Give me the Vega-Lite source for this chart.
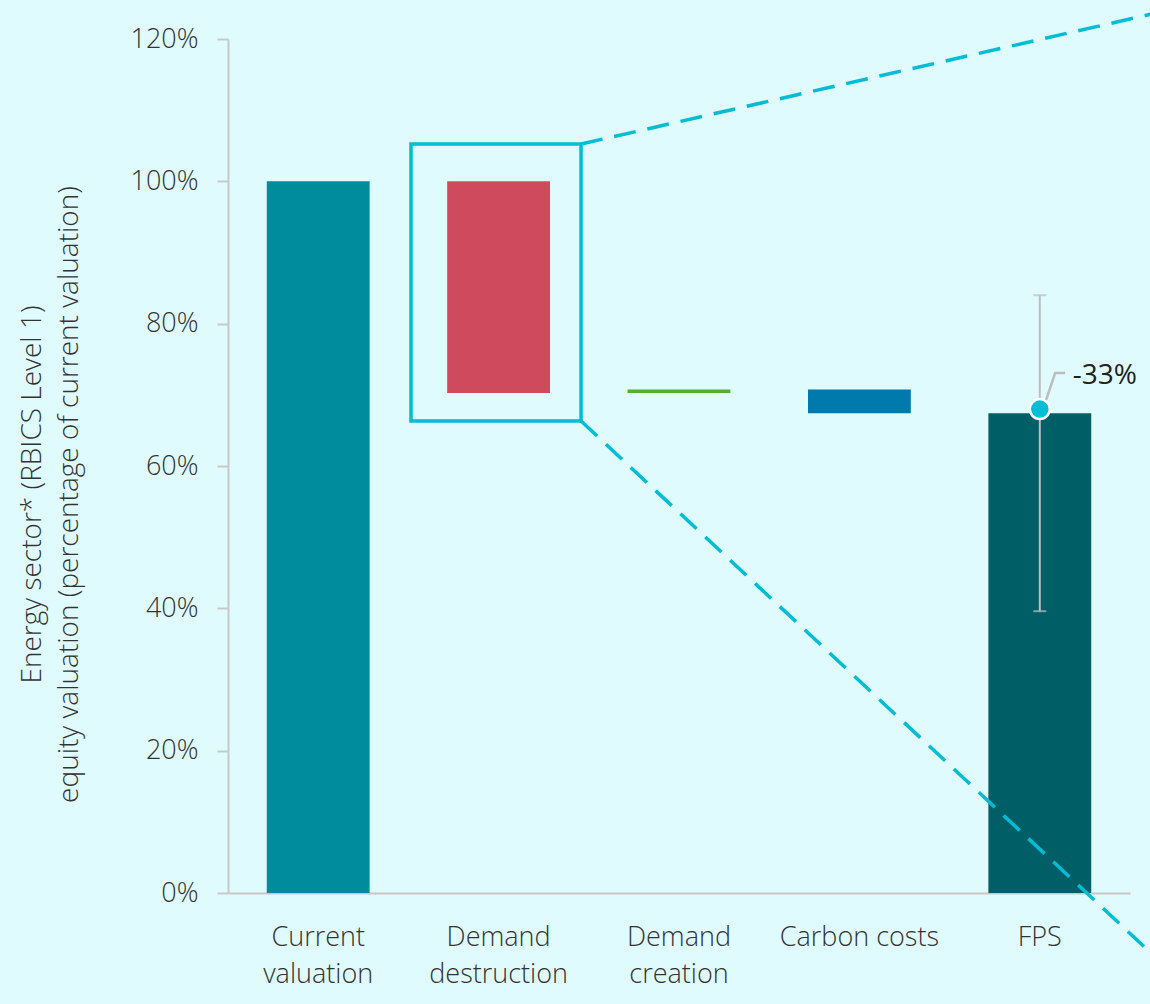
{
  "$schema": "https://vega.github.io/schema/vega-lite/v6.json",
  "width": 902,
  "height": 854,
  "autosize": {"type": "none"},
  "padding": {"left": 228, "top": 39, "right": 20, "bottom": 111},
  "background": "#dffbfd",
  "config": {"view": {"stroke": null}, "font": "Open Sans"},
  "datasets": {
    "steps": [
      {"step": "Current valuation", "start": 0, "end": 1.0},
      {"step": "Demand destruction", "start": 0.7025, "end": 1.0},
      {"step": "Demand creation", "start": 0.7025, "end": 0.7075},
      {"step": "Carbon costs", "start": 0.674, "end": 0.7075},
      {"step": "FPS", "start": 0, "end": 0.674}
    ],
    "fps": [
      {"step": "FPS", "low": 0.396, "high": 0.84, "point": 0.68, "label": "-33%", "labelY": 0.726}
    ],
    "box": [{"x0": 1.0144, "x1": 1.957, "y0": 0.6632, "y1": 1.0524}],
    "zoomLines": [
      {"line": "upper", "x": 1.957, "y": 1.0524},
      {"line": "upper", "x": 5.17, "y": 1.238},
      {"line": "lower", "x": 1.957, "y": 0.6632},
      {"line": "lower", "x": 5.17, "y": -0.097}
    ],
    "leader": [
      {"x": 4.535, "y": 0.6927, "o": 0},
      {"x": 4.585, "y": 0.7307, "o": 1},
      {"x": 4.64, "y": 0.7307, "o": 2}
    ]
  },
  "layer": [
    {
      "layer": [
        {
          "data": {"name": "steps"},
          "mark": {"type": "bar"},
          "encoding": {
            "x": {
              "field": "step",
              "type": "nominal",
              "sort": null,
              "scale": {
                "domain": ["Current valuation", "Demand destruction", "Demand creation", "Carbon costs", "FPS"],
                "paddingInner": 0.43,
                "paddingOuter": 0.215
              },
              "axis": {
                "title": null,
                "labelExpr": "datum.value == 'Carbon costs' || datum.value == 'FPS' ? datum.value : split(datum.value, ' ')",
                "ticks": false,
                "domainColor": "#c8c8c8",
                "domainWidth": 2,
                "labelFontSize": 27,
                "labelFontWeight": 300,
                "labelColor": "#333333",
                "labelPadding": 31,
                "labelLineHeight": 37,
                "labelAngle": 0,
                "labelBaseline": "top"
              }
            },
            "y": {
              "field": "start",
              "type": "quantitative",
              "scale": {"domain": [0, 1.2], "nice": false, "zero": false},
              "axis": {
                "format": ".0%",
                "values": [0, 0.2, 0.4, 0.6, 0.8, 1.0, 1.2],
                "grid": false,
                "domainColor": "#c8c8c8",
                "domainWidth": 2,
                "tickColor": "#c8c8c8",
                "tickWidth": 2,
                "tickSize": 11,
                "labelPadding": 19,
                "labelFontSize": 27,
                "labelFontWeight": 300,
                "labelColor": "#333333",
                "title": ["\u00a0\u00a0\u00a0\u00a0\u00a0\u00a0\u00a0Energy sector*  (RBICS Level 1)", "equity valuation (percentage of current valuation)"],
                "titleFontSize": 28,
                "titleFontWeight": 300,
                "titleColor": "#333333",
                "titlePadding": 46,
                "titleLineHeight": 37,
                "titleY": 455
              }
            },
            "y2": {"field": "end"},
            "color": {
              "field": "step",
              "type": "nominal",
              "legend": null,
              "scale": {
                "domain": ["Current valuation", "Demand destruction", "Demand creation", "Carbon costs", "FPS"],
                "range": ["#008c9c", "#d04a5e", "#52b131", "#0079ad", "#005f66"]
              }
            }
          }
        },
        {
          "data": {"name": "fps"},
          "mark": {"type": "rule", "color": "#bdbdbd", "strokeWidth": 2},
          "encoding": {
            "x": {"field": "step", "type": "nominal"},
            "y": {"field": "low", "type": "quantitative"},
            "y2": {"field": "high"}
          }
        },
        {
          "data": {"name": "fps"},
          "transform": [{"fold": ["low", "high"]}],
          "mark": {"type": "tick", "color": "#bdbdbd", "thickness": 2, "size": 13},
          "encoding": {
            "x": {"field": "step", "type": "nominal"},
            "y": {"field": "value", "type": "quantitative"}
          }
        },
        {
          "data": {"name": "fps"},
          "mark": {"type": "point", "shape": "circle", "filled": true, "size": 400, "fill": "#00bcd4", "stroke": "white", "strokeWidth": 2.5, "opacity": 1},
          "encoding": {
            "x": {"field": "step", "type": "nominal"},
            "y": {"field": "point", "type": "quantitative"}
          }
        },
        {
          "data": {"name": "fps"},
          "mark": {"type": "text", "align": "left", "baseline": "middle", "dx": 33, "fontSize": 28, "fontWeight": "normal", "color": "#222222"},
          "encoding": {
            "x": {"field": "step", "type": "nominal"},
            "y": {"field": "labelY", "type": "quantitative"},
            "text": {"field": "label"}
          }
        }
      ]
    },
    {
      "layer": [
        {
          "data": {"name": "box"},
          "mark": {"type": "rect", "fill": null, "fillOpacity": 0, "stroke": "#00bcd4", "strokeWidth": 3.5},
          "encoding": {
            "x": {"field": "x0", "type": "quantitative", "scale": {"domain": [0, 5], "nice": false, "zero": false}, "axis": null},
            "x2": {"field": "x1"},
            "y": {"field": "y0", "type": "quantitative"},
            "y2": {"field": "y1"}
          }
        },
        {
          "data": {"name": "zoomLines"},
          "mark": {"type": "line", "color": "#00bcd4", "strokeWidth": 3.5, "strokeDash": [22, 12]},
          "encoding": {
            "x": {"field": "x", "type": "quantitative"},
            "y": {"field": "y", "type": "quantitative"},
            "detail": {"field": "line"}
          }
        },
        {
          "data": {"name": "leader"},
          "mark": {"type": "line", "color": "#bdbdbd", "strokeWidth": 2.5},
          "encoding": {
            "x": {"field": "x", "type": "quantitative"},
            "y": {"field": "y", "type": "quantitative"},
            "order": {"field": "o"}
          }
        }
      ]
    }
  ],
  "resolve": {"scale": {"x": "independent"}}
}
